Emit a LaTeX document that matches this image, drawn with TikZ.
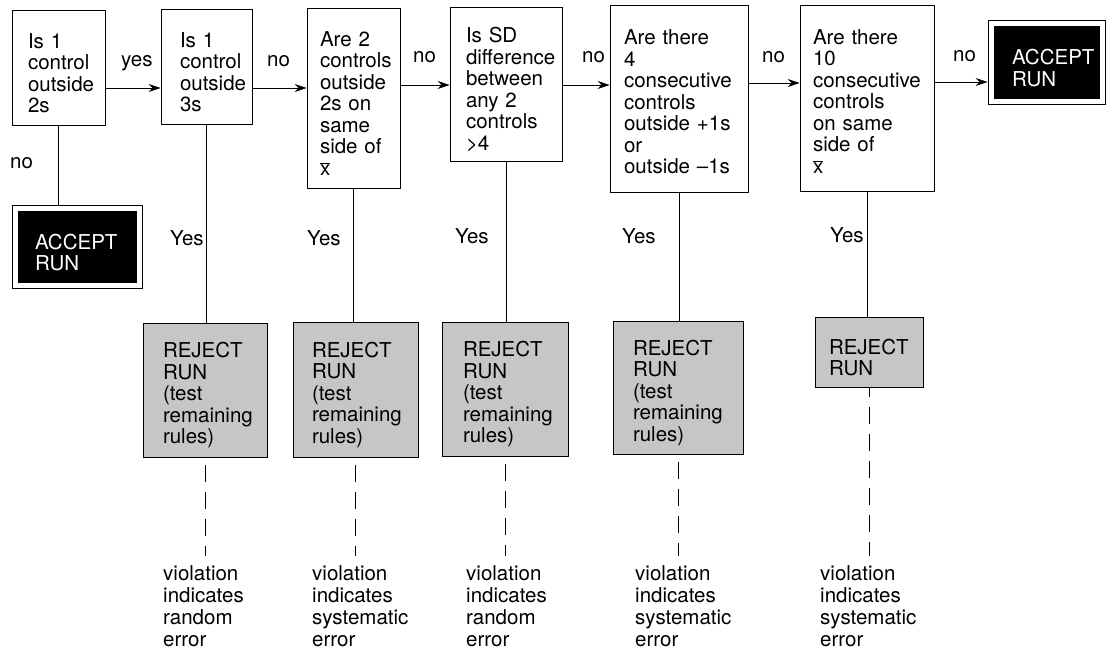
\documentclass[tikz,border=0pt]{standalone}
\usepackage{fontspec}
\setmainfont{TeX Gyre Heros}
\usetikzlibrary{arrows.meta,calc}
\newcommand{\xmean}{$\overline{\mbox{x}}$}

\begin{document}
\begin{tikzpicture}[x=1pt,y=1pt,yscale=-1,xscale=1,
  txt/.style={font=\fontsize{20.5}{21.5}\selectfont, inner sep=0pt},
  rulebox/.style={txt, draw, line width=0.8pt, align=left, text height=26pt},
  reject/.style={rulebox, fill={rgb, 255:red, 198; green, 198; blue, 198 }},
  accept/.style={rulebox, fill=black, text=white, double=white, double distance=5.4pt},
  note/.style={txt, font=\fontsize{20.5}{22}\selectfont, align=left, anchor=north west, text width=110pt},
  flow/.style={line width=0.8pt, -{Stealth[length=12pt,width=8pt,inset=4pt]}},
  link/.style={line width=0.8pt},
  violink/.style={line width=0.8pt, dash pattern=on 17pt off 10pt}]
\useasboundingbox (0,0) rectangle (1109,650);

%Shape: Rectangle
\node[rulebox, minimum width=93pt, minimum height=115pt, text width=61pt] (q1) at (58.5,67.5) {Is 1\\control\\outside\\2s};
%Shape: Rectangle
\node[rulebox, minimum width=91pt, minimum height=115pt, text width=53pt] (q2) at (206.5,66.5) {Is 1\\control\\outside\\3s};
%Shape: Rectangle
\node[rulebox, minimum width=93pt, minimum height=180pt, text width=67pt] (q3) at (353.5,98) {Are 2\\controls\\outside\\2s on\\same\\side of\\\xmean};
%Shape: Rectangle
\node[rulebox, minimum width=112pt, minimum height=154pt, text width=80pt] (q4) at (506,84) {Is SD\\difference\\between\\any 2\\controls\\>4};
%Shape: Rectangle
\node[rulebox, text height=22pt, minimum width=138pt, minimum height=187pt, text width=110pt] (q5) at (679,98.5) {Are there\\4\\consecutive\\controls\\outside +1s\\or\\outside --1s};
%Shape: Rectangle
\node[rulebox, text height=22pt, minimum width=134pt, minimum height=186pt, text width=108pt] (q6) at (867,98) {Are there\\10\\consecutive\\controls\\on same\\side of\\\xmean};

%Shape: Accept boxes
\node[accept, minimum width=111pt, minimum height=78pt, text width=70pt] (accR) at (1047,62.5) {ACCEPT\\RUN};
\node[accept, minimum width=124pt, minimum height=77pt, text width=85pt] (accL) at (77.5,247) {ACCEPT\\RUN};

%Shape: Reject boxes
\node[reject, minimum width=124pt, minimum height=134pt, text width=84pt] (r1) at (205,390) {REJECT\\RUN\\(test\\remaining\\rules)};
\node[reject, minimum width=125pt, minimum height=135pt, text width=87pt] (r2) at (355.5,389.5) {REJECT\\RUN\\(test\\remaining\\rules)};
\node[reject, minimum width=126pt, minimum height=134pt, text width=84pt] (r3) at (505,389) {REJECT\\RUN\\(test\\remaining\\rules)};
\node[reject, minimum width=130pt, minimum height=133pt, text width=90pt] (r4) at (678,387.5) {REJECT\\RUN\\(test\\remaining\\rules)};
\node[reject, minimum width=108pt, minimum height=70pt, text width=80pt] (r5) at (869,352) {REJECT\\RUN};

%Text: meaning of a violation
\node[note] (v1) at (163,565) {violation\\indicates\\random\\error};
\node[note] (v2) at (312,565) {violation\\indicates\\systematic\\error};
\node[note] (v3) at (466,565) {violation\\indicates\\random\\error};
\node[note] (v4) at (635,565) {violation\\indicates\\systematic\\error};
\node[note] (v5) at (820,565) {violation\\indicates\\systematic\\error};

%Text: answers
\node[txt, anchor=base west] (a1) at (121,67) {yes};
\node[txt, anchor=base west] (a2) at (267,67) {no};
\node[txt, anchor=base west] (a3) at (413,63) {no};
\node[txt, anchor=base west] (a4) at (582,63) {no};
\node[txt, anchor=base west] (a5) at (762,63) {no};
\node[txt, anchor=base west] (a6) at (953,62) {no};
\node[txt, anchor=base west] (a0) at (10,168) {no};
\node[txt, anchor=base west] (y2) at (170,245) {Yes};
\node[txt, anchor=base west] (y3) at (307,245) {Yes};
\node[txt, anchor=base west] (y4) at (455,243) {Yes};
\node[txt, anchor=base west] (y5) at (622,243) {Yes};
\node[txt, anchor=base west] (y6) at (830,242) {Yes};

%Straight Lines: arrows along the top
\draw[flow] ($(q1.east)+(0,20.5)$) -- ($(q2.west)+(0,21.5)$);
\draw[flow] ($(q2.east)+(0,21.5)$) -- ($(q3.west)+(0,-10)$);
\draw[flow] ($(q3.east)+(0,-13)$) -- ($(q4.west)+(0,1)$);
\draw[flow] ($(q4.east)+(0,1)$) -- ($(q5.west)+(0,-13.5)$);
\draw[flow] ($(q5.east)+(0,-15.5)$) -- ($(q6.west)+(0,-15)$);
\draw[flow, shorten >=3.5pt] ($(q6.east)+(0,-16)$) -- ($(accR.west)+(0,19.5)$);

%Straight Lines: downward links
\draw[link, shorten >=3.5pt] (q1.south) -- (q1.south |- accL.north);
\draw[link] (q2.south) -- (q2.south |- r1.north);
\draw[link] (q3.south) -- (q3.south |- r2.north);
\draw[link] (q4.south) -- (q4.south |- r3.north);
\draw[link] (q5.south) -- (q5.south |- r4.north);
\draw[link] (q6.south) -- (q6.south |- r5.north);

%Dashed Lines
\draw[violink, shorten <=8pt, shorten >=9pt] (r1.south) -- (r1.south |- v1.north);
\draw[violink, shorten <=8pt, shorten >=9pt] (r2.south) -- (r2.south |- v2.north);
\draw[violink, shorten <=8pt, shorten >=9pt] (r3.south) -- (r3.south |- v3.north);
\draw[violink, shorten <=8pt, shorten >=9pt] (r4.south) -- (r4.south |- v4.north);
\draw[violink, dash phase=7pt, shorten >=9pt] (r5.south) -- (r5.south |- v5.north);

\end{tikzpicture}
\end{document}
